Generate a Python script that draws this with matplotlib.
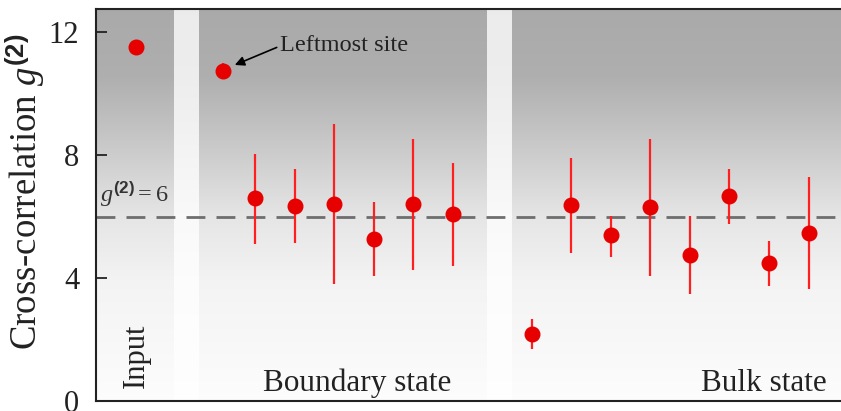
import numpy as np
import matplotlib
matplotlib.use("Agg")
import matplotlib.pyplot as plt
from matplotlib.colors import LinearSegmentedColormap

plt.rcParams['font.family'] = ['Liberation Serif', 'DejaVu Serif']
plt.rcParams['mathtext.fontset'] = 'custom'
plt.rcParams['mathtext.it'] = 'Liberation Serif:italic'
plt.rcParams['mathtext.rm'] = 'Liberation Serif'
plt.rcParams['mathtext.bf'] = 'Liberation Sans:bold'

# ---- data ----
input_x = [-2.0]
input_y = [11.5]

leftmost_x = [0.2]
leftmost_y = [10.73]
leftmost_err = [0.27]

boundary_x = [1, 2, 3, 4, 5, 6]
boundary_y = [6.59, 6.35, 6.41, 5.28, 6.41, 6.07]
boundary_lo = [5.11, 5.15, 3.79, 4.07, 4.26, 4.39]
boundary_hi = [8.05, 7.56, 9.01, 6.48, 8.53, 7.74]

bulk_x = [8, 9, 10, 11, 12, 13, 14, 15]
bulk_y = [2.17, 6.36, 5.39, 6.31, 4.75, 6.66, 4.49, 5.46]
bulk_lo = [1.68, 4.80, 4.69, 4.07, 3.47, 5.75, 3.75, 3.63]
bulk_hi = [2.66, 7.91, 6.03, 8.53, 6.03, 7.56, 5.19, 7.27]

threshold = 6
yticks = [0, 4, 8, 12]

# ---- figure ----
fig = plt.figure(figsize=(8.41, 4.11), dpi=100)
ax = fig.add_axes([96/841, 10/411, 745/841, 392/411])
xlim = (-3.02, 15.82)
ylim = (0, 12.75)
ax.set_xlim(*xlim)
ax.set_ylim(*ylim)

# background gradient
stops = [(0.0, (0.99, 0.99, 0.99)), (0.3, (0.955, 0.955, 0.955)),
         (0.47, (0.90, 0.90, 0.90)), (0.65, (0.79, 0.79, 0.79)),
         (0.83, (0.685, 0.685, 0.685)), (1.0, (0.665, 0.665, 0.665))]
cmap = LinearSegmentedColormap.from_list('bg', stops)
grad = np.linspace(0, 1, 256).reshape(-1, 1)
ax.imshow(grad, cmap=cmap, aspect='auto', origin='lower',
          extent=(xlim[0], xlim[1], ylim[0], ylim[1]), zorder=0, vmin=0, vmax=1)
for (a, b) in [(-1.04, -0.415), (6.86, 7.49)]:
    ax.axvspan(a, b, color='white', alpha=0.78, lw=0, zorder=0.5)

# threshold line
ax.axhline(threshold, color='#6e6e6e', lw=2.0, dashes=(6.8, 4.0), zorder=1)

mcol = '#e60000'
ecol = '#ff1f1f'

def draw(xs, ys, lo, hi):
    ys = np.array(ys); lo = np.array(lo); hi = np.array(hi)
    ax.errorbar(xs, ys, yerr=[ys - lo, hi - ys], fmt='o', ms=10.5,
                mfc=mcol, mec=mcol, ecolor=ecol, elinewidth=1.6, capsize=0, zorder=3)

draw(boundary_x, boundary_y, boundary_lo, boundary_hi)
draw(bulk_x, bulk_y, bulk_lo, bulk_hi)
ax.errorbar(leftmost_x, leftmost_y, yerr=leftmost_err, fmt='o', ms=10.5,
            mfc=mcol, mec=mcol, ecolor=ecol, elinewidth=1.6, capsize=0, zorder=3)
ax.plot(input_x, input_y, 'o', ms=10.5, color=mcol, zorder=3)

# annotation
ax.annotate('', xy=(0.49, 10.93), xytext=(1.55, 11.5),
            arrowprops=dict(arrowstyle='-|>', color='black', lw=1.2, mutation_scale=14,
                            shrinkA=0, shrinkB=0), zorder=4)
ax.text(1.63, 11.4, 'Leftmost site', fontsize=17.5, color='#222222', ha='left', va='baseline')

ax.text(-2.92, 6.47, r'$g^{\mathbf{(2)}}=6$', fontsize=17.5, color='#333333',
        ha='left', va='baseline')

ax.text(3.59, 0.33, 'Boundary state', fontsize=22.5, color='#222222', ha='center', va='baseline')
ax.text(15.45, 0.33, 'Bulk state', fontsize=22.5, color='#222222', ha='right', va='baseline')
ax.text(-2.0, 0.42, 'Input', fontsize=22, color='#222222', rotation=90,
        ha='center', va='bottom')

# axes styling
ax.set_yticks(yticks)
ax.set_yticklabels([str(t) for t in yticks])
ax.set_xticks([])
ax.tick_params(axis='y', direction='in', length=8, width=1.3, pad=12,
               labelsize=22, colors='#222222')
for s in ['left', 'bottom', 'top']:
    ax.spines[s].set_linewidth(1.5)
    ax.spines[s].set_color('#222222')
ax.spines['right'].set_visible(False)
ax.set_ylabel(r'Cross-correlation $g^{\mathbf{(2)}}$', fontsize=26.5, color='#222222')
ax.yaxis.set_label_coords(-0.066, 0.533)

fig.savefig('out.png', dpi=100)
